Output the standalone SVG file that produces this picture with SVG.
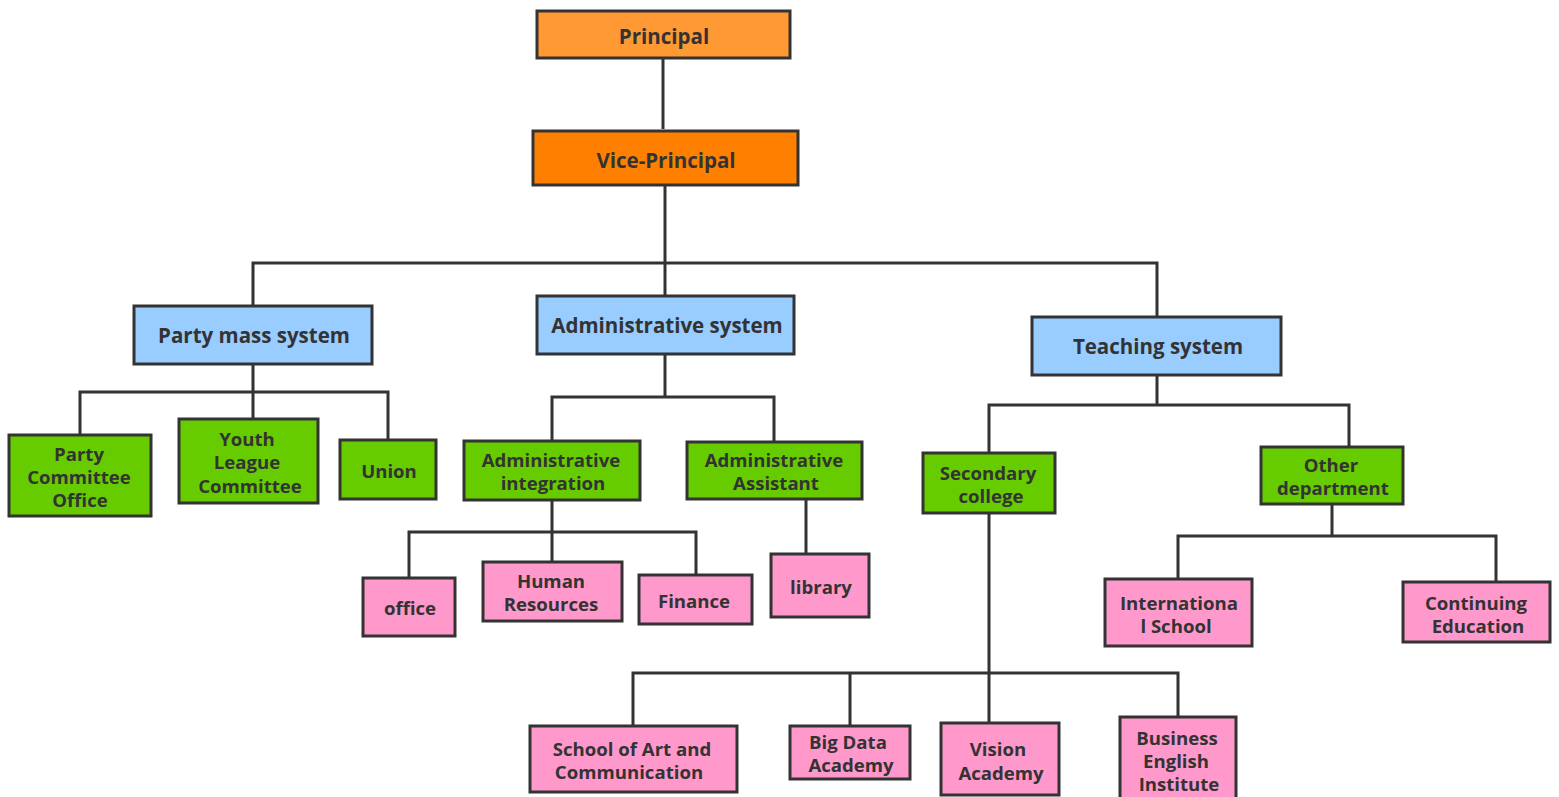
<svg xmlns="http://www.w3.org/2000/svg" width="1559" height="797" viewBox="0 0 1559 797">
<style>
rect{stroke:#333;stroke-width:3}
.p1{fill:#FF9933}.p2{fill:#FF8000}.b{fill:#99CCFF}.g{fill:#66CC00}.k{fill:#FF99CC}
text{font-family:"Open Sans","Noto Sans",sans-serif;font-weight:bold;fill:#333;text-anchor:middle}
.t1{font-size:20.5px}.t2{font-size:18.6px}
#connectors path{fill:none;stroke:#333;stroke-width:3}
</style>
<rect x="0" y="0" width="1559" height="797" fill="#fff" style="stroke:none"/>
<g id="connectors">
<path d="M663 58V129"/>
<path d="M665 185V296M253 306V263H1157V317"/>
<path d="M253 364V392M80 435V392H388V440M253 392V419"/>
<path d="M665 354V397M552 441V397H774V442"/>
<path d="M552 500V562M409 578V532H696V575"/>
<path d="M806 499V554"/>
<path d="M1157 375V405M989 453V405H1349V447"/>
<path d="M989 513V723M633 726V673H1178V717M850 673V726"/>
<path d="M1332 504V536M1178 579V536H1496V582"/>
</g>
<g id="principal"><rect class="p1" x="537" y="11" width="253" height="47"/><text class="t1" x="664" y="44">Principal</text></g>
<g id="vice-principal"><rect class="p2" x="533" y="131" width="265" height="54"/><text class="t1" x="666" y="168">Vice-Principal</text></g>
<g id="party-mass"><rect class="b" x="134" y="306" width="238" height="58"/><text class="t1" x="254" y="343">Party mass system</text></g>
<g id="administrative"><rect class="b" x="537" y="296" width="257" height="58"/><text class="t1" x="667" y="333">Administrative system</text></g>
<g id="teaching"><rect class="b" x="1032" y="317" width="249" height="58"/><text class="t1" x="1158" y="354">Teaching system</text></g>
<g id="party-committee-office"><rect class="g" x="9" y="435" width="142" height="81"/><text class="t2" x="79" y="461">Party</text><text class="t2" x="79" y="484">Committee</text><text class="t2" x="80" y="507">Office</text></g>
<g id="youth-league"><rect class="g" x="179" y="419" width="139" height="84"/><text class="t2" x="247" y="446">Youth</text><text class="t2" x="247" y="469">League</text><text class="t2" x="250" y="493">Committee</text></g>
<g id="union"><rect class="g" x="340" y="440" width="96" height="59"/><text class="t2" x="389" y="478">Union</text></g>
<g id="admin-integration"><rect class="g" x="464" y="441" width="176" height="59"/><text class="t2" x="551" y="467">Administrative</text><text class="t2" x="553" y="490">integration</text></g>
<g id="admin-assistant"><rect class="g" x="687" y="442" width="175" height="57"/><text class="t2" x="774" y="467">Administrative</text><text class="t2" x="776" y="490">Assistant</text></g>
<g id="office"><rect class="k" x="363" y="578" width="92" height="58"/><text class="t2" x="410" y="615">office</text></g>
<g id="human-resources"><rect class="k" x="483" y="562" width="139" height="59"/><text class="t2" x="551" y="588">Human</text><text class="t2" x="551" y="611">Resources</text></g>
<g id="finance"><rect class="k" x="639" y="575" width="113" height="49"/><text class="t2" x="694" y="608">Finance</text></g>
<g id="library"><rect class="k" x="771" y="554" width="98" height="63"/><text class="t2" x="821" y="594">library</text></g>
<g id="secondary-college"><rect class="g" x="923" y="453" width="132" height="60"/><text class="t2" x="988" y="480">Secondary</text><text class="t2" x="991" y="503">college</text></g>
<g id="other-department"><rect class="g" x="1261" y="447" width="142" height="57"/><text class="t2" x="1331" y="472">Other</text><text class="t2" x="1333" y="495">department</text></g>
<g id="international-school"><rect class="k" x="1105" y="579" width="147" height="67"/><text class="t2" x="1179" y="610">Internationa</text><text class="t2" x="1176" y="633">l School</text></g>
<g id="continuing-education"><rect class="k" x="1403" y="582" width="147" height="60"/><text class="t2" x="1476" y="610">Continuing</text><text class="t2" x="1478" y="633">Education</text></g>
<g id="school-art"><rect class="k" x="530" y="726" width="207" height="66"/><text class="t2" x="632" y="756">School of Art and</text><text class="t2" x="629" y="779">Communication</text></g>
<g id="big-data"><rect class="k" x="790" y="726" width="120" height="53"/><text class="t2" x="848" y="749">Big Data</text><text class="t2" x="851" y="772">Academy</text></g>
<g id="vision"><rect class="k" x="941" y="723" width="118" height="72"/><text class="t2" x="998" y="756">Vision</text><text class="t2" x="1001" y="780">Academy</text></g>
<g id="business-english"><rect class="k" x="1120" y="717" width="116" height="84"/><text class="t2" x="1177" y="745">Business</text><text class="t2" x="1176" y="768">English</text><text class="t2" x="1179" y="791">Institute</text></g>
</svg>
